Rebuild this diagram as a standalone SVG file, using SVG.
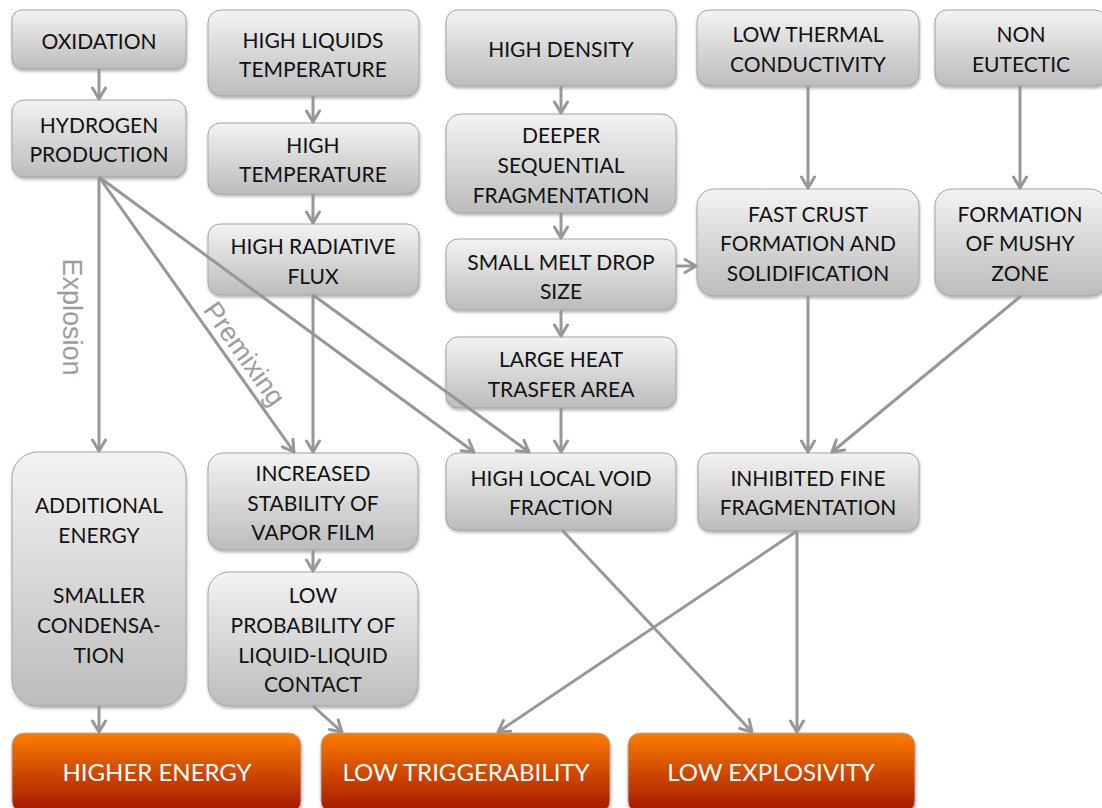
<svg xmlns="http://www.w3.org/2000/svg" width="1102" height="808" viewBox="0 0 1102 808">
<defs>
<linearGradient id="gGray" x1="0" y1="0" x2="0" y2="1">
<stop offset="0" stop-color="#f3f3f3"/>
<stop offset="1" stop-color="#bcbcbc"/>
</linearGradient>
<linearGradient id="gOrange" x1="0" y1="0" x2="0" y2="1">
<stop offset="0" stop-color="#fb7c00"/>
<stop offset="1" stop-color="#a31600"/>
</linearGradient>
<filter id="sh" x="-10%" y="-10%" width="120%" height="130%">
<feDropShadow dx="0.5" dy="2" stdDeviation="1.5" flood-color="#000" flood-opacity="0.3"/>
</filter>
<marker id="ah" markerUnits="userSpaceOnUse" viewBox="-14 -10 16 20" markerWidth="16" markerHeight="20" refX="0" refY="0" orient="auto">
<path d="M-11,-6.5 L0,0 L-11,6.5" fill="none" stroke="#979797" stroke-width="3" stroke-linejoin="round" stroke-linecap="round"/>
</marker>
<style>
.n rect{fill:url(#gGray);stroke:#a3a3a3;stroke-width:1;filter:url(#sh)}
.o rect{fill:url(#gOrange);stroke:#b0b0b0;stroke-width:1;filter:url(#sh)}
.n text{font-family:Lato,"Liberation Sans",sans-serif;font-size:21px;fill:#111;text-anchor:middle}
.o text{font-family:Lato,"Liberation Sans",sans-serif;font-size:24px;fill:#fff;text-anchor:middle}
#connectors line{stroke:#979797;stroke-width:3;fill:none;marker-end:url(#ah)}
.lbl{font-family:"Liberation Sans",Arial,sans-serif;font-size:27px;fill:#9c9c9c;text-anchor:middle}
</style>
</defs>
<rect width="1102" height="808" fill="#fff"/>

<g id="n_oxidation" class="n"><rect x="12" y="10" width="174" height="59" rx="10"/><text x="99" y="49">OXIDATION</text></g>
<g id="n_hydrogen" class="n"><rect x="12" y="100" width="174" height="77" rx="12"/><text x="99" y="133">HYDROGEN</text><text x="99" y="162">PRODUCTION</text></g>
<g id="n_highliquids" class="n"><rect x="208" y="10" width="211" height="86" rx="13"/><text x="313" y="48">HIGH LIQUIDS</text><text x="313" y="77">TEMPERATURE</text></g>
<g id="n_hightemp" class="n"><rect x="208" y="123" width="211" height="71" rx="12"/><text x="313" y="153">HIGH</text><text x="313" y="182">TEMPERATURE</text></g>
<g id="n_radflux" class="n"><rect x="208" y="224" width="211" height="71" rx="12"/><text x="313" y="254">HIGH RADIATIVE</text><text x="313" y="284">FLUX</text></g>
<g id="n_density" class="n"><rect x="446" y="10" width="230" height="76" rx="12"/><text x="561" y="57">HIGH DENSITY</text></g>
<g id="n_deeper" class="n"><rect x="446" y="114" width="230" height="99" rx="15"/><text x="561" y="143">DEEPER</text><text x="561" y="173">SEQUENTIAL</text><text x="561" y="203">FRAGMENTATION</text></g>
<g id="n_smallmelt" class="n"><rect x="446" y="239" width="230" height="71" rx="12"/><text x="561" y="270">SMALL MELT DROP</text><text x="561" y="299">SIZE</text></g>
<g id="n_largeheat" class="n"><rect x="446" y="337" width="230" height="71" rx="12"/><text x="561" y="367">LARGE HEAT</text><text x="561" y="397">TRASFER AREA</text></g>
<g id="n_lowthermal" class="n"><rect x="697" y="10" width="222" height="76" rx="12"/><text x="808" y="42">LOW THERMAL</text><text x="808" y="72">CONDUCTIVITY</text></g>
<g id="n_noneutectic" class="n"><rect x="935" y="10" width="172" height="76" rx="12"/><text x="1021" y="42">NON</text><text x="1021" y="72">EUTECTIC</text></g>
<g id="n_fastcrust" class="n"><rect x="697" y="189" width="222" height="107" rx="17"/><text x="808" y="222">FAST CRUST</text><text x="808" y="251">FORMATION AND</text><text x="808" y="281">SOLIDIFICATION</text></g>
<g id="n_mushy" class="n"><rect x="935" y="189" width="172" height="107" rx="17"/><text x="1020" y="222">FORMATION</text><text x="1020" y="251">OF MUSHY</text><text x="1020" y="281">ZONE</text></g>
<g id="n_void" class="n"><rect x="446" y="453" width="230" height="77" rx="12"/><text x="561" y="486">HIGH LOCAL VOID</text><text x="561" y="515">FRACTION</text></g>
<g id="n_inhibited" class="n"><rect x="698" y="453" width="221" height="78" rx="12"/><text x="808" y="486">INHIBITED FINE</text><text x="808" y="515">FRAGMENTATION</text></g>
<g id="n_additional" class="n"><rect x="12" y="452" width="174" height="254" rx="26"/><text x="99" y="513">ADDITIONAL</text><text x="99" y="543">ENERGY</text><text x="99" y="603">SMALLER</text><text x="99" y="633">CONDENSA-</text><text x="99" y="663">TION</text></g>
<g id="n_increased" class="n"><rect x="208" y="453" width="210" height="97" rx="15"/><text x="313" y="481">INCREASED</text><text x="313" y="511">STABILITY OF</text><text x="313" y="540">VAPOR FILM</text></g>
<g id="n_lowprob" class="n"><rect x="208" y="572" width="210" height="134" rx="21"/><text x="313" y="603">LOW</text><text x="313" y="633">PROBABILITY OF</text><text x="313" y="663">LIQUID-LIQUID</text><text x="313" y="692">CONTACT</text></g>
<g id="n_higherenergy" class="o"><rect x="12" y="733" width="289" height="80" rx="12"/><text x="157" y="781">HIGHER ENERGY</text></g>
<g id="n_lowtrig" class="o"><rect x="321" y="733" width="289" height="80" rx="12"/><text x="466" y="781">LOW TRIGGERABILITY</text></g>
<g id="n_lowexpl" class="o"><rect x="628" y="733" width="287" height="80" rx="12"/><text x="771" y="781">LOW EXPLOSIVITY</text></g>

<g id="connectors">
<line x1="99" y1="69" x2="99" y2="99"/>
<line x1="313" y1="96" x2="313" y2="122"/>
<line x1="313" y1="194" x2="313" y2="223"/>
<line x1="561" y1="86" x2="561" y2="113"/>
<line x1="561" y1="213" x2="561" y2="238"/>
<line x1="561" y1="310" x2="561" y2="336"/>
<line x1="561" y1="408" x2="561" y2="452"/>
<line x1="676" y1="266" x2="696" y2="266"/>
<line x1="808" y1="86" x2="808" y2="188"/>
<line x1="1020" y1="86" x2="1020" y2="188"/>
<line x1="808" y1="296" x2="808" y2="452"/>
<line x1="1021" y1="296" x2="832" y2="452"/>
<line x1="99" y1="177" x2="99" y2="451"/>
<line x1="99" y1="177" x2="294" y2="452"/>
<line x1="99" y1="177" x2="474" y2="452"/>
<line x1="313" y1="295" x2="313" y2="452"/>
<line x1="313" y1="295" x2="529" y2="452"/>
<line x1="313" y1="550" x2="313" y2="571"/>
<line x1="562" y1="530" x2="752" y2="732"/>
<line x1="797" y1="531" x2="498" y2="732"/>
<line x1="797" y1="531" x2="797" y2="732"/>
<line x1="99" y1="706" x2="99" y2="732"/>
<line x1="313" y1="706" x2="342" y2="732"/>
<text class="lbl" transform="translate(63,317) rotate(90)">Explosion</text>
<text class="lbl" transform="translate(237,359) rotate(54.6)">Premixing</text>
</g>
</svg>
